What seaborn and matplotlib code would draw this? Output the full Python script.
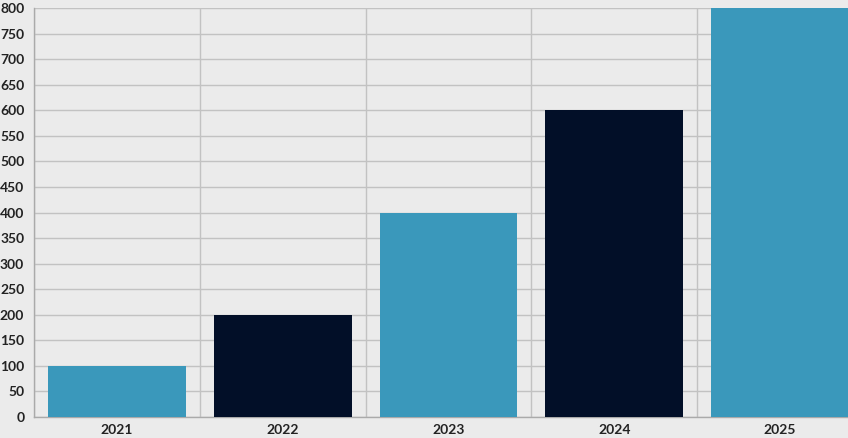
import matplotlib
matplotlib.use("Agg")
import matplotlib.pyplot as plt
import seaborn as sns
import pandas as pd

years = ["2021", "2022", "2023", "2024", "2025"]
values = [100, 200, 400, 600, 800]
color_group = ["a", "b", "a", "b", "a"]
y_ticks = list(range(0, 801, 50))

df = pd.DataFrame({"year": years, "value": values, "grp": color_group})

sns.set_theme(style="white")
plt.rcParams["font.family"] = ["Lato", "DejaVu Sans"]

fig = plt.figure(figsize=(8.48, 4.38), dpi=100)
fig.patch.set_facecolor("#ebebeb")
ax = fig.add_axes([34 / 848, 21 / 438, 829 / 848, 409 / 438])
ax.set_facecolor("#ebebeb")

sns.barplot(data=df, x="year", y="value", hue="grp",
            palette={"a": "#3a98bb", "b": "#020f28"}, saturation=1,
            dodge=False, width=0.83, legend=False, ax=ax, zorder=3,
            linewidth=0)

ax.set_xlim(-0.5, 4.5)
ax.set_ylim(0, 800)
ax.set_yticks(y_ticks)
ax.set_xticks(range(len(years)))
ax.set_xticklabels(years)
ax.set_xticks([i - 0.5 for i in range(len(years) + 1)], minor=True)
ax.grid(True, axis="y", which="major", color="#c2c2c2", linewidth=1, zorder=0)
ax.grid(True, axis="x", which="minor", color="#c2c2c2", linewidth=1, zorder=0)
ax.tick_params(axis="x", which="major", length=0, pad=5, labelsize=10, labelcolor="#222222")
ax.tick_params(axis="x", which="minor", length=5, color="#aaaaaa", width=1)
ax.tick_params(axis="y", which="major", length=5, color="#aaaaaa", width=1, pad=2,
               labelsize=10, labelcolor="#222222")
for lab in ax.get_xticklabels() + ax.get_yticklabels():
    lab.set_fontweight("bold")
ax.set_xlabel("")
ax.set_ylabel("")
for s in ["top", "right"]:
    ax.spines[s].set_visible(False)
for s in ["left", "bottom"]:
    ax.spines[s].set_color("#aaaaaa")
    ax.spines[s].set_linewidth(1)

fig.savefig("out.png", dpi=100, facecolor=fig.get_facecolor())
